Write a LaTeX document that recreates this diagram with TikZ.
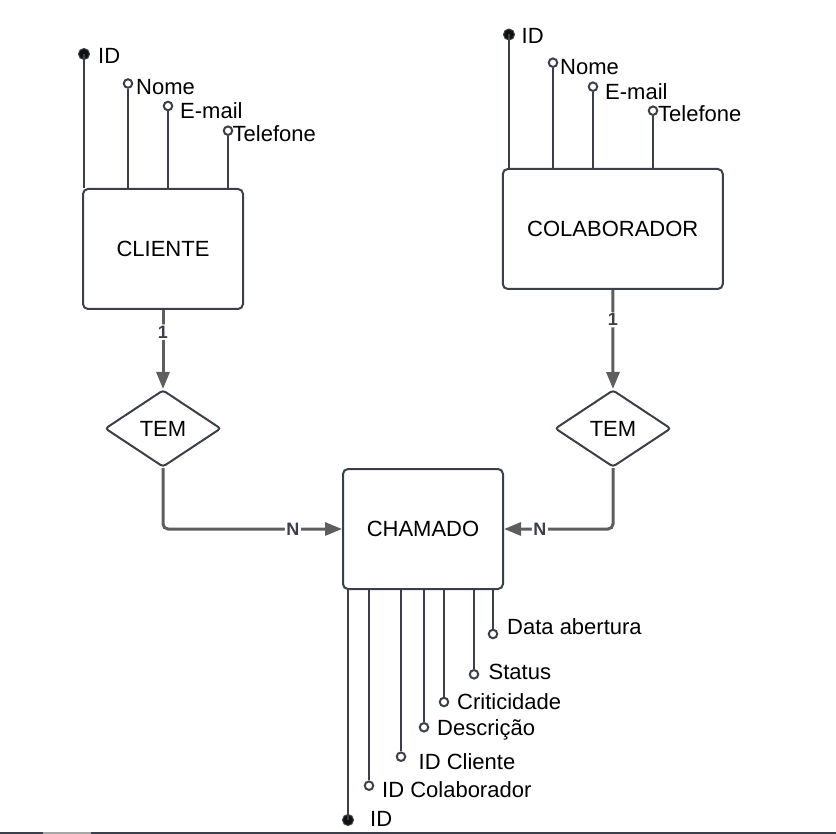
\documentclass[tikz,border=0pt]{standalone}
\usepackage{fontspec}
\setmainfont{Liberation Sans}
\usetikzlibrary{shapes.geometric,arrows.meta}
\definecolor{ln}{HTML}{3A3F4A}
\definecolor{cn}{HTML}{5E5E5E}
\definecolor{dotc}{HTML}{111111}
\begin{document}
\begin{tikzpicture}[x=1pt,y=-1pt,
  bigfont/.style={font=\fontsize{22}{24}\selectfont},
  ent/.style={draw=ln, line width=2pt, rounded corners=5pt, minimum width=160pt, minimum height=120pt, inner sep=0pt, bigfont},
  rel/.style={draw=ln, line width=2pt, diamond, aspect=1.5, minimum width=116pt, minimum height=77pt, inner sep=0pt, rounded corners=3pt, bigfont},
  attrline/.style={draw=ln, line width=2pt},
  opn/.style={circle, draw=ln, line width=2pt, fill=white, minimum size=8.5pt, inner sep=0pt},
  keydot/.style={circle, draw=ln, line width=1pt, fill=dotc, minimum size=11pt, inner sep=0pt},
  lbl/.style={anchor=base west, inner sep=0pt, bigfont},
  conn/.style={draw=cn, line width=3pt, -{Triangle[length=17pt,width=13pt]}, rounded corners=5pt},
  card/.style={fill=white, inner sep=1.5pt, text=ln, font=\bfseries\fontsize{18}{20}\selectfont}
]
\useasboundingbox (0,0) rectangle (836,834);

% entities and relationships
\node[ent] (cli) at (163,249) {CLIENTE};
\node[ent, minimum width=220pt] (col) at (612.8,229) {COLABORADOR};
\node[ent] (cha) at (423,529) {CHAMADO};
\node[rel] (r1) at (163,428.5) {TEM};
\node[rel] (r2) at (613,428.5) {TEM};

% connectors
\draw[conn] (cli.south) -- node[card, pos=0.28] {1} (r1.north);
\draw[conn] (col.south) -- node[card, pos=0.3] {1} (r2.north);
\draw[conn] (r1.south) |- node[card, pos=0.863] {N} (cha.west);
\draw[conn] (r2.south) |- node[card, pos=0.836] {N} (cha.east);

% CLIENTE attributes
\node[keydot] (k1) at (84,54) {};
\node[opn] (a11) at (128,83.5) {};
\node[opn] (a12) at (168,106) {};
\node[opn] (a13) at (228,130.7) {};
\draw[attrline] (k1.center) -- (k1 |- cli.north);
\foreach \n in {a11,a12,a13} \draw[attrline] (\n.south) -- (\n |- cli.north);
\node[lbl] (t1) at (98,64) {ID};
\node[lbl] (t11) at (136,94.4) {Nome};
\node[lbl] (t12) at (180,119) {E-mail};
\node[lbl] (t13) at (232.5,141.7) {Telefone};

% COLABORADOR attributes
\node[keydot] (k2) at (509,34.5) {};
\node[opn] (a21) at (553,62.7) {};
\node[opn] (a22) at (593,86.7) {};
\node[opn] (a23) at (653,110.7) {};
\draw[attrline] (k2.center) -- (k2 |- col.north);
\foreach \n in {a21,a22,a23} \draw[attrline] (\n.south) -- (\n |- col.north);
\node[lbl] (t2) at (521.5,44) {ID};
\node[lbl] (t21) at (560,74.4) {Nome};
\node[lbl] (t22) at (605,99.4) {E-mail};
\node[lbl] (t23) at (658,121.4) {Telefone};

% CHAMADO attributes
\node[keydot] (k3) at (348,820) {};
\node[opn] (a31) at (369,785.7) {};
\node[opn] (a32) at (401,756.7) {};
\node[opn] (a33) at (424,727.3) {};
\node[opn] (a34) at (444,702) {};
\node[opn] (a35) at (474,674.3) {};
\node[opn] (a36) at (493,634) {};
\draw[attrline] (k3.center) -- (k3 |- cha.south);
\foreach \n in {a31,a32,a33,a34,a35,a36} \draw[attrline] (\n.north) -- (\n |- cha.south);
\node[lbl] (t3) at (370,826.5) {ID};
\node[lbl] (t31) at (382,797.2) {ID Colaborador};
\node[lbl] (t32) at (418.5,769.4) {ID Cliente};
\node[lbl] (t33) at (437,735.7) {Descrição};
\node[lbl] (t34) at (457,709.2) {Criticidade};
\node[lbl] (t35) at (488.5,679.5) {Status};
\node[lbl] (t36) at (507,634) {Data abertura};

% bottom edge line
\draw[line width=1.6pt, color=ln] (0,833.2) -- (836,833.2);
\draw[line width=1.6pt, color=gray!70] (43,833.2) -- (91,833.2);
\end{tikzpicture}
\end{document}
